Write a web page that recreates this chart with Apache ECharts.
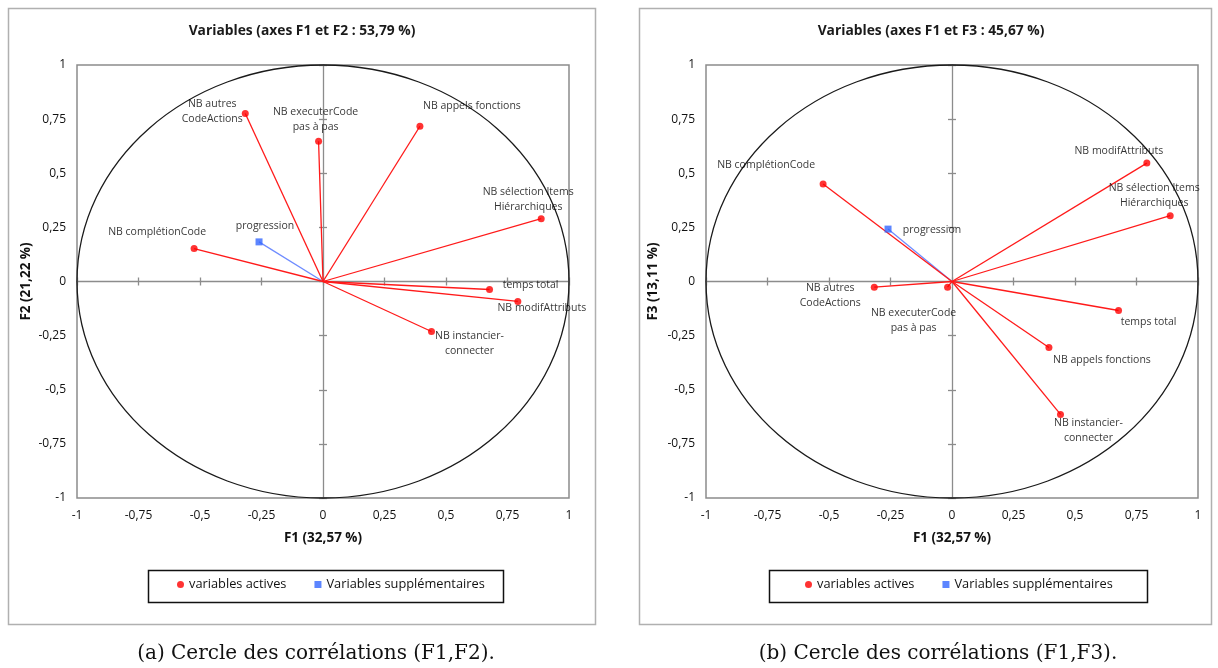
<!DOCTYPE html>
<html>
<head>
<meta charset="utf-8">
<script src="https://cdn.jsdelivr.net/npm/echarts@6/dist/echarts.min.js"></script>
<style>
html,body{margin:0;padding:0;background:#fff;}
#chart{width:1218px;height:668px;}
</style>
</head>
<body>
<div id="chart"></div>
<script>
// ---- data ----
const varNames = ['NB autres\nCodeActions', 'NB executerCode\npas à pas', 'NB appels fonctions', 'NB sélection Items\nHiérarchiques', 'temps total', 'NB modifAttributs', 'NB instancier-\nconnecter', 'NB complétionCode'];
const f1 = [-0.316, -0.018, 0.394, 0.887, 0.677, 0.792, 0.441, -0.524];
const f2 = [0.776, 0.648, 0.717, 0.29, -0.037, -0.092, -0.231, 0.152];
const f3 = [-0.026, -0.026, -0.305, 0.304, -0.134, 0.547, -0.614, 0.45];
const supNames = ['progression'];
const supF1 = [-0.26];
const supF2 = [0.183];
const supF3 = [0.242];
const titles = ['Variables (axes F1 et F2 : 53,79 %)', 'Variables (axes F1 et F3 : 45,67 %)'];
const xNames = ['F1 (32,57 %)', 'F1 (32,57 %)'];
const yNames = ['F2 (21,22 %)', 'F3 (13,11 %)'];
const captions = ['(a) Cercle des corrélations (F1,F2).', '(b) Cercle des corrélations (F1,F3).'];
const legendNames = ['variables actives', 'Variables supplémentaires'];

// ---- label layout (styles, pixel offsets) ----
const offActive = [
  [[-33, -2], [-3, -22], [52, -20], [-13, -19], [41, -4], [24, 7], [38, 12], [-37, -17]],
  [[-44, 8], [-34, 33], [53, 12], [-16, -20], [30, 12], [-28, -12], [28, 16], [-57, -19]]
];
const offSup = [[[6, -16]], [[44, 1]]];

const FONT = 'Open Sans';
const TXT = '#111';
const tickFmt = v => String(v).replace('.', ',');

const gridPos = [{left: 77, top: 65, width: 492, height: 433}, {left: 706, top: 65, width: 492, height: 433}];
const yNameGap = [44, 46];

const grids = [], xAxes = [], yAxes = [], series = [];
gridPos.forEach((g, gi) => {
  grids.push(Object.assign({show: true, borderColor: '#8c8c8c', borderWidth: 1.5, backgroundColor: 'transparent'}, g));
  const base = {type: 'value', min: -1, max: 1, interval: 0.25, gridIndex: gi, splitLine: {show: false}};
  xAxes.push(Object.assign({}, base, {
    position: 'bottom', axisLine: {show: false, onZero: false}, axisTick: {show: false},
    axisLabel: {formatter: tickFmt, margin: 12, color: TXT, fontFamily: FONT, fontSize: 12},
    name: xNames[gi], nameLocation: 'middle', nameGap: 33,
    nameTextStyle: {fontFamily: FONT, fontSize: 13.5, fontWeight: 'bold', color: TXT}
  }));
  xAxes.push(Object.assign({}, base, {
    position: 'bottom', axisLine: {show: true, onZero: true, lineStyle: {color: '#8c8c8c', width: 1.3}},
    axisTick: {show: true, length: 4, lineStyle: {color: '#8c8c8c', width: 1.3}}, axisLabel: {show: false}
  }));
  xAxes.push(Object.assign({}, base, {
    position: 'bottom', axisLine: {show: false, onZero: true},
    axisTick: {show: true, inside: true, length: 4, lineStyle: {color: '#8c8c8c', width: 1.3}}, axisLabel: {show: false}
  }));
  yAxes.push(Object.assign({}, base, {
    position: 'left', axisLine: {show: false, onZero: false}, axisTick: {show: false},
    axisLabel: {formatter: tickFmt, margin: 11, color: TXT, fontFamily: FONT, fontSize: 12},
    name: yNames[gi], nameLocation: 'middle', nameGap: yNameGap[gi],
    nameTextStyle: {fontFamily: FONT, fontSize: 13.5, fontWeight: 'bold', color: TXT}
  }));
  yAxes.push(Object.assign({}, base, {
    position: 'left', axisLine: {show: true, onZero: true, lineStyle: {color: '#8c8c8c', width: 1.3}},
    axisTick: {show: true, length: 4, lineStyle: {color: '#8c8c8c', width: 1.3}}, axisLabel: {show: false}
  }));
  yAxes.push(Object.assign({}, base, {
    position: 'left', axisLine: {show: false, onZero: true},
    axisTick: {show: true, inside: true, length: 4, lineStyle: {color: '#8c8c8c', width: 1.3}}, axisLabel: {show: false}
  }));

  const ax = gi * 3;
  const ys = gi === 0 ? f2 : f3;
  const supYs = gi === 0 ? supF2 : supF3;
  series.push({
    type: 'custom', xAxisIndex: ax, yAxisIndex: ax, silent: true, z: 1,
    data: [[0, 0]],
    renderItem: (params, api) => {
      const c = api.coord([api.value(0), api.value(1)]);
      const s = api.size([1, 1]);
      return {type: 'ellipse', shape: {cx: c[0], cy: c[1], rx: s[0], ry: s[1]},
        style: {fill: null, stroke: '#1a1a1a', lineWidth: 1.3}};
    }
  });
  series.push({
    type: 'lines', coordinateSystem: 'cartesian2d', xAxisIndex: ax, yAxisIndex: ax, silent: true, z: 3,
    lineStyle: {color: '#6f8cff', width: 1.3, opacity: 1},
    data: supF1.map((x, i) => ({coords: [[0, 0], [x, supYs[i]]]}))
  });
  series.push({
    type: 'lines', coordinateSystem: 'cartesian2d', xAxisIndex: ax, yAxisIndex: ax, silent: true, z: 4,
    lineStyle: {color: '#ff1a1a', width: 1.3, opacity: 1},
    data: f1.map((x, i) => ({coords: [[0, 0], [x, ys[i]]]}))
  });
  const lbl = {show: true, position: 'inside', align: 'center', verticalAlign: 'middle',
      formatter: p => p.name, color: '#000', fontFamily: FONT, fontSize: 10.5, lineHeight: 15};
  series.push({
    name: legendNames[0], type: 'scatter', xAxisIndex: ax, yAxisIndex: ax, z: 5,
    symbol: 'circle', symbolSize: 7, itemStyle: {color: '#ff0000'}, label: lbl,
    data: f1.map((x, i) => ({name: varNames[i], value: [x, ys[i]], label: {offset: offActive[gi][i]}}))
  });
  series.push({
    name: legendNames[1], type: 'scatter', xAxisIndex: ax, yAxisIndex: ax, z: 5,
    symbol: 'rect', symbolSize: 7, itemStyle: {color: '#3366ff'}, label: lbl,
    data: supF1.map((x, i) => ({name: supNames[i], value: [x, supYs[i]], label: {offset: offSup[gi][i]}}))
  });
});

const legendCommon = {itemWidth: 7, itemHeight: 7, itemGap: 28, padding: 0, selectedMode: false,
  textStyle: {fontFamily: FONT, fontSize: 12.8, color: TXT},
  data: [{name: legendNames[0], icon: 'circle'}, {name: legendNames[1], icon: 'rect'}]};
const titleStyle = {fontFamily: FONT, fontSize: 13.8, fontWeight: 'bold', color: '#1a1a1a'};
const capStyle = {fontFamily: 'DejaVu Serif', fontSize: 20, fontWeight: 'normal', color: '#111'};

const chart = echarts.init(document.getElementById('chart'), null, {renderer: 'canvas'});
chart.setOption({
  animation: false,
  backgroundColor: '#fff',
  title: [
    {text: titles[0], left: 297, top: 19, textAlign: 'center', textStyle: titleStyle},
    {text: titles[1], left: 926, top: 19, textAlign: 'center', textStyle: titleStyle},
    {text: captions[0], left: 311, top: 639, textAlign: 'center', textStyle: capStyle},
    {text: captions[1], left: 933, top: 639, textAlign: 'center', textStyle: capStyle}
  ],
  legend: [
    Object.assign({left: 177, top: 578}, legendCommon),
    Object.assign({left: 805, top: 578}, legendCommon)
  ],
  graphic: [
    {type: 'rect', shape: {x: 8.5, y: 8.5, width: 587, height: 616}, style: {fill: null, stroke: '#b0b0b0', lineWidth: 1.5}, silent: true, z: -10},
    {type: 'rect', shape: {x: 639.5, y: 8.5, width: 572, height: 616}, style: {fill: null, stroke: '#b0b0b0', lineWidth: 1.5}, silent: true, z: -10},
    {type: 'rect', shape: {x: 148.5, y: 570.5, width: 355, height: 32}, style: {fill: null, stroke: '#111', lineWidth: 1.5}, silent: true},
    {type: 'rect', shape: {x: 769.5, y: 570.5, width: 378, height: 32}, style: {fill: null, stroke: '#111', lineWidth: 1.5}, silent: true}
  ],
  grid: grids,
  xAxis: xAxes,
  yAxis: yAxes,
  series: series
});
</script>
</body>
</html>
